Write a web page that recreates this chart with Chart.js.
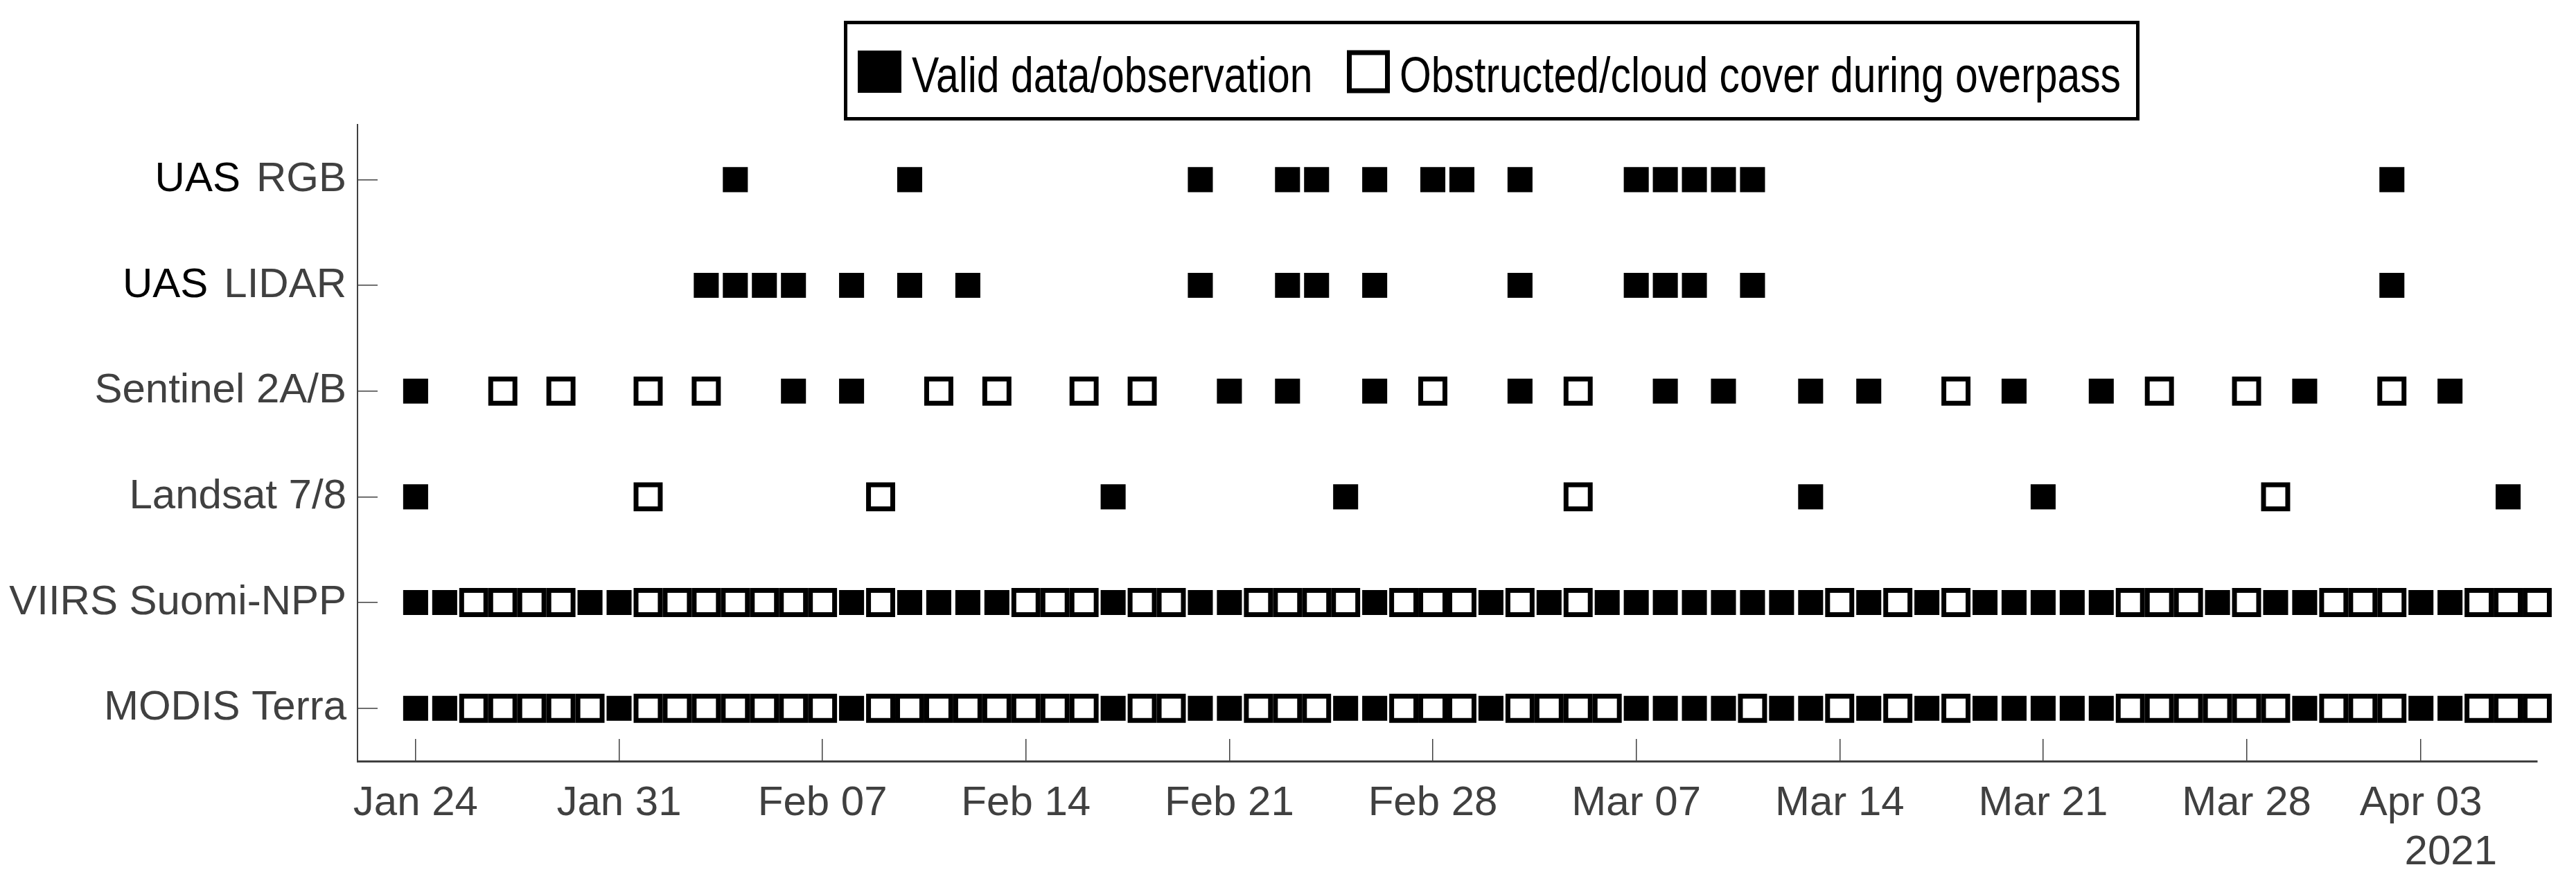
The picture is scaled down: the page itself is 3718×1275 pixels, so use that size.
<!DOCTYPE html>
<html>
<head>
<meta charset="utf-8">
<script src="https://cdn.jsdelivr.net/npm/chart.js@4/dist/chart.umd.min.js"></script>
<style>
  html, body { margin: 0; padding: 0; background: #fff; }
  #wrap { width: 3718px; height: 1275px; }
</style>
</head>
<body>
<div id="wrap"><canvas id="chart" width="3718" height="1275"></canvas></div>
<script>
// rows bottom -> top
const rowNames = ["MODIS Terra", "VIIRS Suomi-NPP", "Landsat 7/8", "Sentinel 2A/B", "LIDAR", "RGB"];
const rowPrefix = ["", "", "", "", "UAS", "UAS"];

const tickDates = ["01-24", "01-31", "02-07", "02-14", "02-21", "02-28", "03-07", "03-14", "03-21", "03-28", "04-03"];
const tickLabels = ["Jan 24", "Jan 31", "Feb 07", "Feb 14", "Feb 21", "Feb 28", "Mar 07", "Mar 14", "Mar 21", "Mar 28", "Apr 03"];
const yearLabel = "2021";

// daily overpasses from Jan 24: 1 = valid, 0 = obstructed
const dailyStart = "01-24";
const modisValid = [
  1,1,0,0,0,0,0,1,0,0, 0,0,0,0,0,1,0,0,0,0, 0,0,0,0,1,0,0,1,1,0,
  0,0,1,1,0,0,0,1,0,0, 0,0,1,1,1,1,0,1,1,0, 1,0,1,0,1,1,1,1,1,0,
  0,0,0,0,0,1,0,0,0,1, 1,0,0,0
];
const viirsValid = [
  1,1,0,0,0,0,1,1,0,0, 0,0,0,0,0,1,0,1,1,1, 1,0,0,0,1,0,0,1,1,0,
  0,0,0,1,0,0,0,1,0,1, 0,1,1,1,1,1,1,1,1,0, 1,0,1,0,1,1,1,1,1,0,
  0,0,1,0,1,1,0,0,0,1, 1,0,0,0
];

const landsatValid = ["01-24", "02-17", "02-25", "03-13", "03-21", "04-06"];
const landsatCloud = ["02-01", "02-09", "03-05", "03-29"];

const sentinelValid = ["01-24", "02-06", "02-08", "02-21", "02-23", "02-26", "03-03", "03-08",
                       "03-10", "03-13", "03-15", "03-20", "03-23", "03-30", "04-04"];
const sentinelCloud = ["01-27", "01-29", "02-01", "02-03", "02-11", "02-13", "02-16", "02-18",
                       "02-28", "03-05", "03-18", "03-25", "03-28", "04-02"];

const lidarValid = ["02-03", "02-04", "02-05", "02-06", "02-08", "02-10", "02-12", "02-20", "02-23",
                    "02-24", "02-26", "03-03", "03-07", "03-08", "03-09", "03-11", "04-02"];
const rgbValid = ["02-04", "02-10", "02-20", "02-23", "02-24", "02-26", "02-28", "03-01", "03-03",
                  "03-07", "03-08", "03-09", "03-10", "03-11", "04-02"];

const monthStart = { 1: 0, 2: 31, 3: 59, 4: 90 };
const doy = s => { const [m, d] = s.split("-").map(Number); return monthStart[m] + d; };

const valid = [], cloud = [];
const addDaily = (flags, row) => flags.forEach((f, i) => (f ? valid : cloud).push({ x: doy(dailyStart) + i, y: row }));
const addDates = (list, target, row) => list.forEach(d => target.push({ x: doy(d), y: row }));

addDaily(modisValid, 1);
addDaily(viirsValid, 2);
addDates(landsatValid, valid, 3);
addDates(landsatCloud, cloud, 3);
addDates(sentinelValid, valid, 4);
addDates(sentinelCloud, cloud, 4);
addDates(lidarValid, valid, 5);
addDates(rgbValid, valid, 6);

const FONT = '"Liberation Sans", Arial, Helvetica, sans-serif';
const AXIS = "#404040";

// legend text is narrower than the tick font in the original
function narrowText(ctx, text, x, y) {
  ctx.save();
  ctx.translate(x, y);
  ctx.scale(0.818, 1);
  ctx.fillText(text, 0, 0);
  ctx.restore();
}

const extras = {
  id: "extras",
  afterDraw(chart) {
    const ctx = chart.ctx, ys = chart.scales.y, xs = chart.scales.x;
    ctx.save();
    // black "UAS" prefix before the gray tick label
    ctx.font = "60px " + FONT;
    ctx.textAlign = "right";
    ctx.textBaseline = "middle";
    ctx.fillStyle = "#000";
    const labelRight = ys.right - (ys.options.ticks.padding + ys.options.grid.tickLength);
    rowPrefix.forEach((p, i) => {
      if (!p) return;
      const w = ctx.measureText(rowNames[i]).width;
      ctx.fillText(p, labelRight - w - 23, ys.getPixelForValue(i + 1));
    });

    // year under the last tick
    ctx.fillStyle = AXIS;
    ctx.textBaseline = "alphabetic";
    ctx.fillText(yearLabel, xs.right - 58, 1248);

    // legend
    const ds = chart.data.datasets;
    ctx.strokeStyle = "#000";
    ctx.lineWidth = 5;
    ctx.strokeRect(1220.5, 32.5, 1865, 139);
    ctx.fillStyle = "#000";
    ctx.fillRect(1238, 73, 63, 61);
    ctx.lineWidth = 7;
    ctx.strokeRect(1947.5, 76, 55, 55);
    ctx.font = "72px " + FONT;
    ctx.textAlign = "left";
    narrowText(ctx, ds[0].label, 1316, 133);
    narrowText(ctx, ds[1].label, 2020, 133);
    ctx.restore();
  }
};

new Chart(document.getElementById("chart"), {
  type: "scatter",
  data: {
    datasets: [
      {
        label: "Valid data/observation",
        data: valid,
        pointStyle: "rect",
        pointRadius: 25.5,
        pointHoverRadius: 25.5,
        backgroundColor: "#000",
        borderColor: "#000",
        borderWidth: 0,
        clip: false
      },
      {
        label: "Obstructed/cloud cover during overpass",
        data: cloud,
        pointStyle: "rect",
        pointRadius: 24.7,
        pointHoverRadius: 24.7,
        backgroundColor: "#fff",
        borderColor: "#000",
        borderWidth: 7,
        clip: false
      }
    ]
  },
  options: {
    responsive: false,
    animation: false,
    devicePixelRatio: 1,
    layout: { padding: { left: 0, top: 180, right: 56, bottom: 0 } },
    plugins: { legend: { display: false }, tooltip: { enabled: false } },
    scales: {
      x: {
        type: "linear",
        min: 22,
        max: 97,
        afterBuildTicks: s => { s.ticks = tickDates.map(d => ({ value: doy(d) })); },
        afterFit: s => { s.height = 176; },
        ticks: {
          callback: (v, i) => tickLabels[i],
          font: { family: FONT, size: 60 },
          color: AXIS,
          padding: 57,
          maxRotation: 0,
          autoSkip: false
        },
        grid: { drawOnChartArea: false, tickLength: -32, color: AXIS, lineWidth: 1.5 },
        border: { color: AXIS, width: 3 }
      },
      y: {
        type: "linear",
        min: 0.5,
        max: 6.52,
        afterBuildTicks: s => { s.ticks = rowNames.map((n, i) => ({ value: i + 1 })); },
        afterFit: s => { s.width = 516; },
        ticks: {
          callback: (v, i) => rowNames[i],
          font: { family: FONT, size: 60 },
          color: AXIS,
          padding: 45,
          autoSkip: false
        },
        grid: { drawOnChartArea: false, tickLength: -29, color: AXIS, lineWidth: 1.5 },
        border: { color: AXIS, width: 2 }
      }
    }
  },
  plugins: [extras]
});
</script>
</body>
</html>
